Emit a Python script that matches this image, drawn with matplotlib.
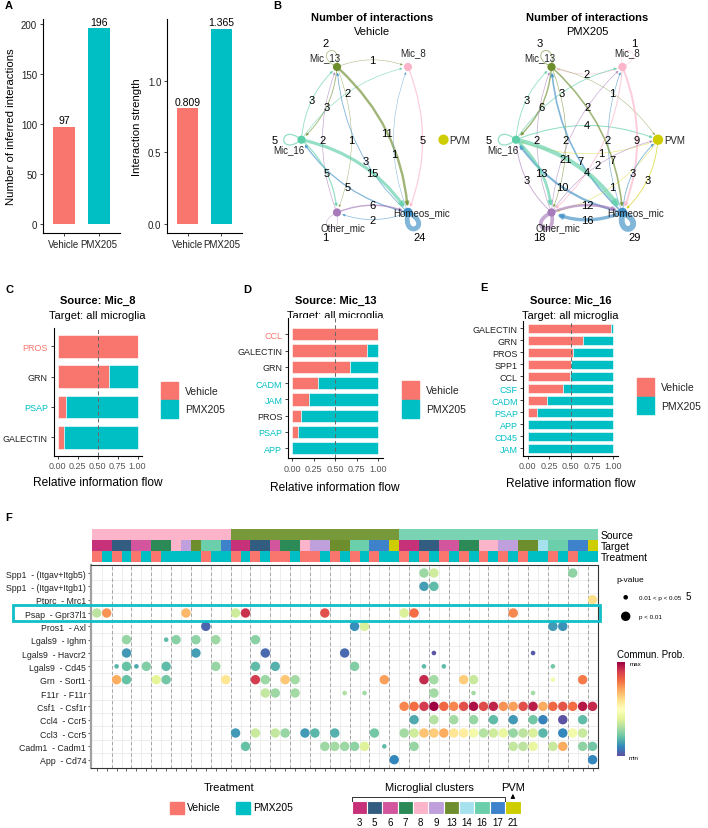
import numpy as np
import matplotlib.pyplot as plt
from matplotlib.patches import FancyArrowPatch, Rectangle, PathPatch
from matplotlib.path import Path

plt.rcParams['font.family'] = ['Liberation Sans', 'DejaVu Sans']

salmon = '#F8766D'
teal = '#00BFC4'

# ---------------- data ----------------
treatments = ['Vehicle', 'PMX205']
n_interactions = [97, 196]
strength = [0.809, 1.365]

node_names = ['PVM', 'Mic_8', 'Mic_13', 'Mic_16', 'Other_mic', 'Homeos_mic']
node_colors = {'Mic_13': '#6E8E2E', 'Mic_8': '#FBB4C9', 'PVM': '#CDCD00',
               'Homeos_mic': '#3D8FC6', 'Other_mic': '#A77BBA', 'Mic_16': '#5DCFA8'}

# (source, target, number of interactions)
vehicle_edges = [
    ('Mic_13', 'Mic_13', 2), ('Mic_13', 'Mic_8', 1), ('Mic_13', 'Mic_16', 3),
    ('Mic_16', 'Mic_13', 3), ('Mic_16', 'Mic_8', 2), ('Mic_13', 'Other_mic', 1),
    ('Homeos_mic', 'Mic_13', 3), ('Mic_13', 'Homeos_mic', 11), ('Homeos_mic', 'Mic_8', 1),
    ('Mic_8', 'Homeos_mic', 5), ('Mic_16', 'Mic_16', 5), ('Other_mic', 'Mic_13', 2),
    ('Homeos_mic', 'Mic_16', 5), ('Mic_16', 'Other_mic', 5), ('Mic_16', 'Homeos_mic', 15),
    ('Other_mic', 'Homeos_mic', 6), ('Homeos_mic', 'Other_mic', 2),
    ('Homeos_mic', 'Homeos_mic', 24), ('Other_mic', 'Other_mic', 1),
]
pmx_edges = [
    ('Mic_13', 'Mic_13', 3), ('Mic_8', 'Mic_8', 1), ('Mic_8', 'Mic_13', 2),
    ('Mic_16', 'Mic_8', 3), ('Mic_13', 'PVM', 1), ('Mic_13', 'Mic_16', 6),
    ('Mic_16', 'Mic_13', 3), ('Other_mic', 'Mic_13', 2), ('Mic_13', 'Other_mic', 2),
    ('Homeos_mic', 'Mic_13', 7), ('Homeos_mic', 'Mic_8', 2), ('Mic_16', 'PVM', 4),
    ('PVM', 'Mic_16', 1), ('Mic_16', 'Mic_16', 5), ('Mic_8', 'Other_mic', 4),
    ('Mic_13', 'Homeos_mic', 7), ('PVM', 'Other_mic', 1), ('Mic_8', 'Homeos_mic', 9),
    ('Homeos_mic', 'PVM', 3), ('PVM', 'Homeos_mic', 3), ('Other_mic', 'Mic_16', 3),
    ('Homeos_mic', 'Mic_16', 10), ('Mic_16', 'Other_mic', 13), ('Other_mic', 'Mic_8', 2),
    ('Mic_16', 'Homeos_mic', 21), ('Other_mic', 'PVM', 2), ('Other_mic', 'Homeos_mic', 12),
    ('Homeos_mic', 'Other_mic', 16), ('Homeos_mic', 'Homeos_mic', 29),
    ('Other_mic', 'Other_mic', 18),
]

c_paths = ['PROS', 'GRN', 'PSAP', 'GALECTIN']
c_vehicle = [1.0, 0.64, 0.11, 0.08]
c_enriched = {'PROS': 'Vehicle', 'PSAP': 'PMX205'}

d_paths = ['CCL', 'GALECTIN', 'GRN', 'CADM', 'JAM', 'PROS', 'PSAP', 'APP']
d_vehicle = [1.0, 0.87, 0.67, 0.30, 0.19, 0.10, 0.07, 0.0]
d_enriched = {'CCL': 'Vehicle', 'CADM': 'PMX205', 'JAM': 'PMX205', 'PSAP': 'PMX205', 'APP': 'PMX205'}

e_paths = ['GALECTIN', 'GRN', 'PROS', 'SPP1', 'CCL', 'CSF', 'CADM', 'PSAP', 'APP', 'CD45', 'JAM']
e_vehicle = [0.97, 0.65, 0.53, 0.505, 0.49, 0.41, 0.23, 0.11, 0.0, 0.0, 0.0]
e_enriched = {'CSF': 'PMX205', 'CADM': 'PMX205', 'PSAP': 'PMX205', 'APP': 'PMX205',
              'CD45': 'PMX205', 'JAM': 'PMX205'}

# bubble plot columns: source -> targets / treatment (V = Vehicle, P = PMX205)
sources = ['Mic_8', 'Mic_13', 'Mic_16']
targets_mic8 = [3, 3, 5, 5, 6, 6, 7, 7, 8, 9, 13, 16, 16, 17]
treat_mic8 = 'VPVPVPVPPPPVPP'
targets_mic13 = [3, 3, 5, 5, 6, 7, 7, 8, 9, 9, 13, 13, 16, 16, 17, 17, 21]
treat_mic13 = 'VPVPVVPVVPVPVPVPP'
targets_mic16 = [3, 3, 5, 5, 6, 6, 7, 7, 8, 8, 9, 9, 13, 13, 14, 16, 16, 17, 17, 21]
treat_mic16 = 'VPVPVPVPVPVPVPPVPVPP'

clusters = [3, 5, 6, 7, 8, 9, 13, 14, 16, 17, 21]
cluster_colors = ['#C7317A', '#335C81', '#D2559D', '#2C8A57', '#FBB4C9', '#BFA0DC',
                  '#6E8E2E', '#A6E2EE', '#6ACFAA', '#3D82CB', '#CDCD00']
source_colors = {'Mic_8': '#FBB4C9', 'Mic_13': '#77993A', 'Mic_16': '#7AD4B4'}

lr_pairs = ['Spp1  - (Itgav+Itgb5)', 'Spp1  - (Itgav+Itgb1)', 'Ptprc  - Mrc1',
            'Psap  - Gpr37l1', 'Pros1  - Axl', 'Lgals9  - Ighm', 'Lgals9  - Havcr2',
            'Lgals9  - Cd45', 'Grn  - Sort1', 'F11r  - F11r', 'Csf1  - Csf1r',
            'Ccl4  - Ccr5', 'Ccl3  - Ccr5', 'Cadm1  - Cadm1', 'App  - Cd74']

# (column, commun. prob scaled 0-1, significance: 1 = p<0.01, 0 = 0.01<p<0.05)
spp1_b5 = [(34, 0.28, 1), (35, 0.36, 1), (49, 0.26, 1)]
spp1_b1 = [(34, 0.14, 1), (35, 0.19, 1)]
ptprc_mrc1 = [(51, 0.60, 1)]
psap_gpr37l1 = [(1, 0.33, 1), (2, 0.74, 1), (10, 0.68, 1), (15, 0.36, 1), (16, 0.92, 1),
                (24, 0.86, 1), (32, 0.38, 1), (33, 0.80, 1), (43, 0.76, 1)]
pros1_axl = [(12, 0.04, 1), (27, 0.11, 1), (28, 0.38, 1), (47, 0.13, 1), (48, 0.12, 1)]
lgals9_ighm = [(4, 0.27, 1), (8, 0.19, 0), (9, 0.25, 1), (11, 0.26, 1), (13, 0.28, 1),
               (17, 0.25, 1)]
lgals9_havcr2 = [(4, 0.13, 1), (11, 0.14, 1), (18, 0.05, 1), (26, 0.05, 1), (35, 0.01, 0),
                 (45, 0.02, 0)]
lgals9_cd45 = [(3, 0.18, 0), (4, 0.20, 1), (5, 0.16, 0), (6, 0.24, 1), (8, 0.19, 1),
               (13, 0.27, 1), (17, 0.19, 1), (19, 0.17, 1), (27, 0.24, 1), (34, 0.19, 0),
               (36, 0.19, 0), (47, 0.22, 0)]
grn_sort1 = [(3, 0.70, 1), (4, 0.20, 1), (7, 0.40, 1), (8, 0.22, 1), (14, 0.58, 1),
             (17, 0.90, 1), (18, 0.28, 1), (20, 0.65, 1), (21, 0.29, 1), (30, 0.72, 1),
             (34, 0.93, 1), (35, 0.29, 1), (38, 0.64, 1), (39, 0.35, 1), (47, 0.45, 0),
             (50, 0.78, 1)]
f11r_f11r = [(18, 0.34, 1), (19, 0.28, 1), (21, 0.29, 1), (26, 0.31, 0), (28, 0.29, 0),
             (35, 0.29, 1), (39, 0.29, 0), (45, 0.29, 0)]
csf1_csf1r = [(32, 0.76, 1), (33, 0.80, 1), (34, 0.90, 1), (35, 1.00, 1), (36, 0.81, 1),
              (37, 0.76, 1), (38, 0.86, 1), (39, 0.97, 1), (40, 0.87, 1), (41, 0.94, 1),
              (42, 0.74, 1), (43, 0.72, 1), (44, 0.86, 1), (45, 0.95, 1), (46, 0.70, 1),
              (47, 0.81, 1), (48, 0.85, 1), (49, 0.80, 1), (50, 0.96, 1), (51, 0.93, 1)]
ccl4_ccr5 = [(33, 0.16, 1), (35, 0.32, 1), (37, 0.29, 1), (39, 0.27, 1), (41, 0.19, 1),
             (43, 0.13, 1), (45, 0.22, 1), (46, 0.09, 1), (48, 0.01, 1), (50, 0.19, 1)]
ccl3_ccr5 = [(15, 0.13, 1), (17, 0.35, 1), (19, 0.34, 1), (20, 0.27, 1), (22, 0.13, 1),
             (23, 0.18, 1), (25, 0.17, 1), (29, 0.22, 1), (32, 0.29, 1), (33, 0.36, 1),
             (34, 0.66, 1), (35, 0.64, 1), (36, 0.70, 1), (37, 0.58, 1), (38, 0.56, 1),
             (39, 0.45, 1), (40, 0.32, 1), (41, 0.36, 1), (42, 0.42, 1), (43, 0.27, 1),
             (44, 0.33, 1), (45, 0.38, 1), (46, 0.18, 1), (48, 0.10, 1), (49, 0.45, 1),
             (50, 0.35, 1)]
cadm1_cadm1 = [(16, 0.20, 1), (24, 0.28, 1), (25, 0.29, 1), (26, 0.28, 1), (27, 0.26, 1),
               (28, 0.39, 1), (30, 0.19, 0), (33, 0.27, 1), (43, 0.34, 1), (44, 0.33, 1),
               (45, 0.42, 1), (47, 0.35, 1), (48, 0.70, 1), (50, 0.26, 1), (51, 0.22, 1)]
app_cd74 = [(31, 0.10, 1), (51, 0.10, 1)]
row_dots = [spp1_b5, spp1_b1, ptprc_mrc1, psap_gpr37l1, pros1_axl, lgals9_ighm,
            lgals9_havcr2, lgals9_cd45, grn_sort1, f11r_f11r, csf1_csf1r, ccl4_ccr5,
            ccl3_ccr5, cadm1_cadm1, app_cd74]

# ---------------- figure ----------------
W, H = 708, 829
fig = plt.figure(figsize=(W / 100, H / 100), dpi=100)


def add_ax(x0, y0, x1, y1, **kw):
    return fig.add_axes([x0 / W, 1 - y1 / H, (x1 - x0) / W, (y1 - y0) / H], **kw)


def ftext(x, y, s, **kw):
    return fig.text(x / W, 1 - y / H, s, **kw)


ov = fig.add_axes([0, 0, 1, 1], zorder=10)
ov.set_xlim(0, W)
ov.set_ylim(H, 0)
ov.axis('off')

for lab, (x, y) in zip('ABCDEF', [(5, 6), (273, 6), (5, 290), (243, 290), (480, 288), (5, 518)]):
    ov.text(x, y, lab, fontsize=8, fontweight='bold', va='center')


def classic(ax):
    for s in ['top', 'right']:
        ax.spines[s].set_visible(False)
    for s in ['left', 'bottom']:
        ax.spines[s].set_linewidth(0.8)
    ax.tick_params(length=2.5, width=0.6, labelsize=7, colors='#222222', pad=1.5)


# ---- A
axA1 = add_ax(42.7, 19.5, 120.4, 234.3)
axA1.bar([1, 2], n_interactions, width=0.62, color=[salmon, teal])
for x, v in zip([1, 2], n_interactions):
    axA1.text(x, v + 1.5, str(v), ha='center', va='bottom', fontsize=7.5)
axA1.set_xlim(0.39, 2.61)
axA1.set_ylim(-9.8, 205.8)
axA1.set_xticks([1, 2], treatments)
axA1.set_yticks([0, 50, 100, 150, 200])
axA1.set_ylabel('Number of inferred interactions', fontsize=8.2)
axA1.yaxis.set_label_coords(-0.34, 0.5)
classic(axA1)

axA2 = add_ax(166.9, 19.9, 241.9, 234.3)
axA2.bar([1, 2], strength, width=0.62, color=[salmon, teal])
for x, v in zip([1, 2], strength):
    axA2.text(x, v + 0.01, f'{v:g}', ha='center', va='bottom', fontsize=7.5)
axA2.set_xlim(0.39, 2.61)
axA2.set_ylim(-0.068, 1.433)
axA2.set_xticks([1, 2], treatments)
axA2.set_yticks([0.0, 0.5, 1.0], ['0.0', '0.5', '1.0'])
axA2.set_ylabel('Interaction strength', fontsize=8.2)
axA2.yaxis.set_label_coords(-0.33, 0.5)
classic(axA2)

# ---- B
axB = add_ax(265, 0, 708, 262)
axB.set_xlim(265, 708)
axB.set_ylim(262, 0)
axB.axis('off')
node_angles = {'PVM': 0, 'Mic_8': 60, 'Mic_13': 120, 'Mic_16': 180, 'Other_mic': 240,
               'Homeos_mic': 300}
node_size = {'PVM': 55, 'Mic_8': 35, 'Mic_13': 35, 'Mic_16': 35, 'Other_mic': 35,
             'Homeos_mic': 45}
label_off = {'Mic_13': (-12, -10, 'center'), 'Mic_8': (5, -15, 'center'),
             'PVM': (6, 0, 'left'), 'Homeos_mic': (-15, 0, 'left'),
             'Other_mic': (6, 15, 'center'), 'Mic_16': (-13, 9, 'center')}
curv = -0.2


def rot(v, deg):
    a = np.deg2rad(deg)
    return np.array([v[0] * np.cos(a) - v[1] * np.sin(a), v[0] * np.sin(a) + v[1] * np.cos(a)])


def network(cx, cy, edges, subtitle, wmax=29, rx=71, ry=84):
    pos = {}
    for nm in node_names:
        a = np.deg2rad(node_angles[nm])
        pos[nm] = np.array([cx + rx * np.cos(a), cy - ry * np.sin(a)])
    placed = []
    for src, tgt, n in edges:
        col = node_colors[src]
        lw = (0.3 + 5.5 * n / wmax) * 0.72
        p0 = pos[src]
        if src == tgt:
            u = p0 - np.array([cx, cy])
            u = u / np.linalg.norm(u)
            c1 = p0 + 30 * rot(u, 38)
            c2 = p0 + 30 * rot(u, -38)
            path = Path([p0, c1, c2, p0], [Path.MOVETO, Path.CURVE4, Path.CURVE4, Path.CURVE4])
            axB.add_patch(PathPatch(path, fc='none', ec=col, lw=lw, alpha=0.65, zorder=2))
            lab = p0 + 27 * u
        else:
            p1 = pos[tgt]
            axB.add_patch(FancyArrowPatch(p0, p1, connectionstyle=f'arc3,rad={curv}',
                                          arrowstyle='-|>', mutation_scale=3 + lw,
                                          lw=lw, color=col, alpha=0.65, shrinkA=3,
                                          shrinkB=4, zorder=2))
            m = (p0 + p1) / 2
            d = p1 - p0
            c = m + curv * np.array([-d[1], d[0]])
            # put the count on the curve, sliding it along when it would hit another count
            best, best_d = None, -1
            for t in (0.5, 0.6, 0.4, 0.68, 0.32):
                q = (1 - t) ** 2 * p0 + 2 * t * (1 - t) * c + t ** 2 * p1
                dmin = min([np.linalg.norm(q - o) for o in placed] + [99])
                if dmin > best_d:
                    best, best_d = q, dmin
                if dmin > 11:
                    break
            lab = best
        placed.append(lab)
        axB.text(lab[0], lab[1], str(n), fontsize=8, ha='center', va='center', zorder=4)
    for nm in node_names:
        axB.scatter(*pos[nm], s=node_size[nm], color=node_colors[nm], zorder=3,
                    edgecolors='none')
        dx, dy, ha = label_off[nm]
        axB.text(pos[nm][0] + dx, pos[nm][1] + dy, nm, fontsize=7, ha=ha, va='center',
                 color='#222222', zorder=5)
    ov.text(cx, 18.3, 'Number of interactions', fontsize=8, fontweight='bold', ha='center',
            va='center')
    ov.text(cx, 32.3, subtitle, fontsize=8, ha='center', va='center')


network(372.5, 140.7, vehicle_edges, 'Vehicle')
network(587, 140.7, pmx_edges, 'PMX205')


# ---- C, D, E
def flow_panel(box, ytop, paths, veh, enriched, source, xlab_y, leg_x, leg_y):
    ax = add_ax(*box)
    n = len(paths)
    y = np.arange(n)
    veh = np.array(veh)
    ax.barh(y, veh, height=0.75, color=salmon, edgecolor='white', lw=0.4)
    ax.barh(y, 1 - veh, left=veh, height=0.75, color=teal, edgecolor='white', lw=0.4)
    ax.axvline(0.5, color='#666666', ls=(0, (4, 3)), lw=0.7)
    ax.set_xlim(-0.05, 1.05)
    ax.set_ylim(n - 0.4, ytop)
    ax.set_xticks([0, 0.25, 0.5, 0.75, 1.0], ['0.00', '0.25', '0.50', '0.75', '1.00'])
    ax.set_yticks(y, paths)
    classic(ax)
    ax.tick_params(labelsize=6.5)
    for t in ax.get_xticklabels():
        t.set_color('#555555')
    for t, p in zip(ax.get_yticklabels(), paths):
        grp = enriched.get(p)
        t.set_color(salmon if grp == 'Vehicle' else teal if grp == 'PMX205' else '#222222')
    ax.set_xlabel('Relative information flow', fontsize=8.6)
    x0, y0, x1, y1 = box
    ax.xaxis.set_label_coords(0.5, -(xlab_y - y1) / (y1 - y0))
    xc = (x0 + x1) / 2
    ov.text(xc, 301, f'Source: {source}', fontsize=8, fontweight='bold', ha='center',
            va='center')
    ftext(xc, 315.7, 'Target: all microglia', fontsize=8, ha='center', va='center',
          zorder=-1)
    for k, (lab, col) in enumerate(zip(treatments, [salmon, teal])):
        yy = leg_y + k * 18.7
        ov.add_patch(Rectangle((leg_x, yy), 17, 17.5, color=col))
        ov.text(leg_x + 24, yy + 9, lab, fontsize=7.5, va='center', color='#222222')


flow_panel((53.5, 329, 141.5, 456.5), -0.6, c_paths, c_vehicle, c_enriched, 'Mic_8', 476.7,
           160.7, 382.7)
flow_panel((288, 319, 382.6, 459), -1.0, d_paths, d_vehicle, d_enriched, 'Mic_13', 481.7,
           402.3, 382.3)
flow_panel((523.4, 321.8, 617.6, 456.5), -0.6, e_paths, e_vehicle, e_enriched, 'Mic_16',
           478.3, 637.3, 379)

# ---- F
targets = targets_mic8 + targets_mic13 + targets_mic16
treats = treat_mic8 + treat_mic13 + treat_mic16
col_sources = (['Mic_8'] * len(targets_mic8) + ['Mic_13'] * len(targets_mic13)
               + ['Mic_16'] * len(targets_mic16))
ncol = len(targets)
cols = np.arange(1, ncol + 1)
xl = (0.42, ncol + 0.58)

axT = add_ax(91, 530, 598.3, 563)
axT.set_xlim(*xl)
axT.set_ylim(3, 0)
cmap_cl = dict(zip(clusters, cluster_colors))
axT.bar(cols, 1, bottom=0, width=1.0, color=[source_colors[s] for s in col_sources])
axT.bar(cols, 1, bottom=1, width=1.0, color=[cmap_cl[t] for t in targets])
axT.bar(cols, 1, bottom=2, width=1.0, color=[salmon if t == 'V' else teal for t in treats])
axT.axis('off')
for k, lab in enumerate(['Source', 'Target', 'Treatment']):
    ov.text(600.7, 535.7 + 11 * k, lab, fontsize=7.5, va='center')

axF = add_ax(91, 566, 598.3, 768.7)
axF.set_xlim(*xl)
axF.set_ylim(len(lr_pairs) + 0.6, 0.4)
for b in np.arange(1.5, ncol, 1):
    axF.axvline(b, color='#E6E6E6', lw=0.5, zorder=0)
for b in np.arange(1.5, len(lr_pairs), 1):
    axF.axhline(b, color='#E6E6E6', lw=0.5, zorder=0)
for b in np.arange(2.5, ncol, 2):
    axF.axvline(b, color='#9A9A9A', lw=0.6, ls=(0, (4, 3)), zorder=1)
cmap = plt.get_cmap('Spectral_r')
for r, dots in enumerate(row_dots, start=1):
    if not dots:
        continue
    c, p, s = np.array(dots).T
    axF.scatter(c, np.full(len(c), r), c=cmap(p), s=np.where(s > 0, 46, 11),
                edgecolors='none', zorder=3)
axF.set_xticks(cols)
axF.set_xticklabels([])
axF.set_yticks(np.arange(1, len(lr_pairs) + 1), lr_pairs)
axF.tick_params(length=2, width=0.5, labelsize=6.3, colors='#222222', pad=1.5)
for s in axF.spines.values():
    s.set_linewidth(0.8)
    s.set_color('#333333')
axF.spines['left'].set_color('#A0A0A0')
axF.spines['left'].set_linewidth(1.6)

ov.add_patch(Rectangle((13.3, 605.7), 586.7, 16.6, fill=False, ec='#12BEC8', lw=2.0))

# p-value legend
ov.text(616.7, 580, 'p-value', fontsize=6, va='center')
ov.scatter([625.7, 625.7], [598.3, 617.3], s=[11, 46], color='black', edgecolors='none')
ov.text(639.3, 598.3, '0.01 < p < 0.05', fontsize=4.5, va='center')
ov.text(686, 597.5, '5', fontsize=7, va='center')
ov.text(639.3, 617.3, 'p < 0.01', fontsize=4.5, va='center')

# Commun. Prob. colorbar
ov.text(616.7, 655, 'Commun. Prob.', fontsize=7, va='center')
axCB = add_ax(616.7, 663.3, 624, 756.7)
axCB.imshow(np.linspace(0, 1, 256)[:, None], aspect='auto', cmap=cmap, origin='lower')
axCB.axis('off')
ov.text(629.3, 664.5, 'max', fontsize=4.5, va='center')
ov.text(628.3, 758.3, 'min', fontsize=4.5, va='center')

# Treatment legend
ov.text(229, 788, 'Treatment', fontsize=8, ha='center', va='center')
for lab, col, x in zip(treatments, [salmon, teal], [170, 236]):
    ov.add_patch(Rectangle((x, 802.5), 14, 12, color=col))
    ov.text(x + 17, 808.5, lab, fontsize=7.5, va='center')

# Microglial clusters legend
bx0, bw = 351.5, 15.37
ov.text(429, 788, 'Microglial clusters', fontsize=8, ha='center', va='center')
for k, (cl, col) in enumerate(zip(clusters, cluster_colors)):
    ov.add_patch(Rectangle((bx0 + k * bw, 801.7), bw, 13.3, fc=col, ec='white', lw=0.8))
    ov.text(bx0 + (k + 0.5) * bw, 823.3, str(cl), fontsize=7, ha='center', va='center')
ov.plot([bx0, bx0, bx0 + 10 * bw, bx0 + 10 * bw], [801.7, 798, 798, 801.7], color='#333333',
        lw=0.7)
ov.text(bx0 + 10.5 * bw, 788, 'PVM', fontsize=8, ha='center', va='center')
ov.annotate('', xy=(bx0 + 10.5 * bw, 792), xytext=(bx0 + 10.5 * bw, 801.7),
            arrowprops=dict(arrowstyle='-|>', color='black', lw=0.8, mutation_scale=6))

fig.savefig('out.png', dpi=100)
